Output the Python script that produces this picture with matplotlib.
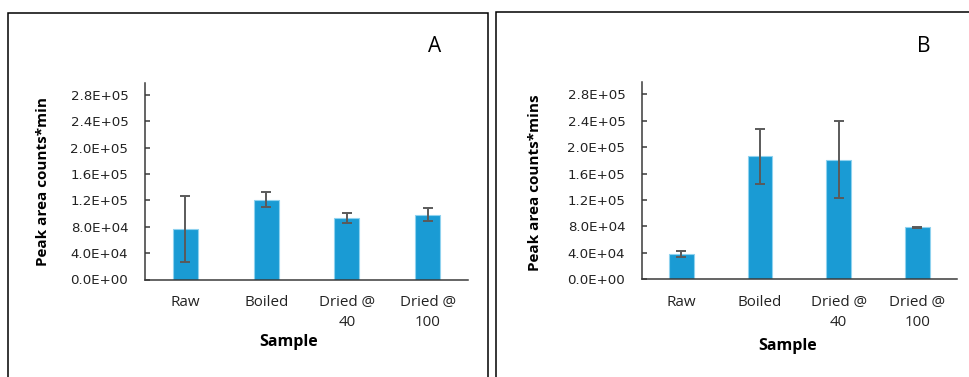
import matplotlib.pyplot as plt
from matplotlib.patches import Rectangle
from matplotlib.ticker import FuncFormatter

plt.rcParams['font.family'] = ['Open Sans', 'DejaVu Sans']

samples = ['Raw', 'Boiled', 'Dried @\n40', 'Dried @\n100']

# panel A
peak_a = [7.7e4, 1.21e5, 9.4e4, 9.85e4]
err_a = [5.0e4, 1.15e4, 7.5e3, 1.0e4]

# panel B
peak_b = [3.9e4, 1.86e5, 1.81e5, 7.85e4]
err_b = [4.5e3, 4.2e4, 5.8e4, 8.0e2]

yticks = [0, 4e4, 8e4, 1.2e5, 1.6e5, 2.0e5, 2.4e5, 2.8e5]

bar_color = '#1a9bd4'
edge_color = '#8fd2ef'
axis_color = '#3a3a3a'
err_color = '#5a5a5a'

fig = plt.figure(figsize=(9.69, 3.77), dpi=100)

# outer frames
fig.add_artist(Rectangle((8 / 969, -0.1), 480 / 969, 1.1 - 13 / 377,
                         transform=fig.transFigure, fill=False,
                         edgecolor='black', lw=1.1))
fig.add_artist(Rectangle((496 / 969, -0.1), 0.6, 1.1 - 12 / 377,
                         transform=fig.transFigure, fill=False,
                         edgecolor='black', lw=1.1))

axA = fig.add_axes([145 / 969, 97.5 / 377, 323 / 969, 196.3 / 377])
axB = fig.add_axes([642 / 969, 97.7 / 377, 314.7 / 969, 196.8 / 377])


def draw(ax, vals, errs, ylab):
    x = range(len(samples))
    ax.bar(x, vals, width=0.31, color=bar_color, edgecolor=edge_color,
           linewidth=0.8, zorder=2)
    ax.errorbar(x, vals, yerr=errs, fmt='none', ecolor=err_color,
                elinewidth=1.4, capsize=3.3, capthick=1.4, zorder=3)
    ax.set_xlim(-0.5, 3.5)
    ax.set_ylim(0, 2.98e5)
    ax.set_yticks(yticks)
    ax.yaxis.set_major_formatter(FuncFormatter(lambda v, p: f'{v:.1E}'))
    ax.set_xticks(list(x))
    ax.set_xticklabels(samples, fontsize=10.9, color='#222222',
                       linespacing=1.45)
    ax.tick_params(axis='x', length=0, pad=11)
    ax.tick_params(axis='y', direction='in', length=3.4, width=1.1,
                   color=axis_color, pad=12, labelsize=9.6,
                   labelcolor='#222222')
    for t in ax.get_yticklabels():
        t.set_fontfamily('DejaVu Sans')
    for s in ['top', 'right']:
        ax.spines[s].set_visible(False)
    for s in ['left', 'bottom']:
        ax.spines[s].set_color(axis_color)
        ax.spines[s].set_linewidth(1.1)
    ax.set_ylabel(ylab, fontsize=11, fontweight='bold')
    ax.set_xlabel('Sample', fontsize=11.5, fontweight='bold')
    ax.xaxis.label.set_verticalalignment('center')
    ax.yaxis.label.set_verticalalignment('center')


draw(axA, peak_a, err_a, 'Peak area counts*min')
draw(axB, peak_b, err_b, 'Peak area counts*mins')

axA.xaxis.set_label_coords(0.446, -0.318)
axA.yaxis.set_label_coords(-0.316, 0.497)
axB.xaxis.set_label_coords(0.464, -0.339)
axB.yaxis.set_label_coords(-0.340, 0.49)

fig.text(435 / 969, 1 - 46.7 / 377, 'A', fontsize=15, ha='center', va='center')
fig.text(924 / 969, 1 - 47 / 377, 'B', fontsize=15, ha='center', va='center')

plt.savefig('out.png', dpi=100)
